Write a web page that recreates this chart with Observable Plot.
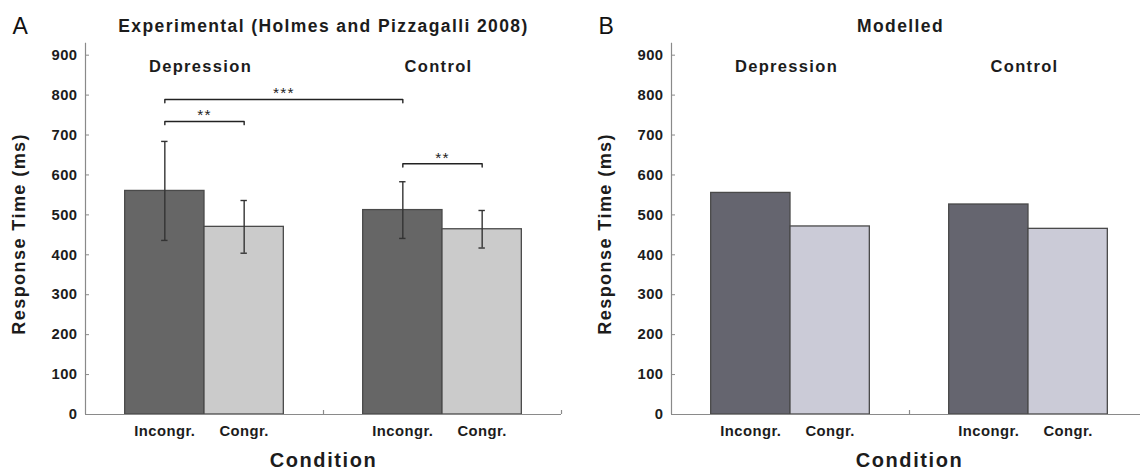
<!DOCTYPE html>
<html>
<head>
<meta charset="utf-8">
<script src="https://cdn.jsdelivr.net/npm/d3@7"></script>
<script src="https://cdn.jsdelivr.net/npm/@observablehq/plot@0.6"></script>
<style>
  html, body { margin: 0; padding: 0; background: #fff; }
  #wrap { position: relative; width: 1140px; height: 471px; overflow: hidden; background: #fff; }
  .panel { position: absolute; top: 0; width: 570px; height: 471px; }
  .panel svg { font-family: "Liberation Sans", Arial, Helvetica, sans-serif; overflow: visible; }
  .panel svg text { letter-spacing: 0.08em; }
  .panel svg g[font-size="14.8"] text { letter-spacing: 0.03em; }
</style>
</head>
<body>
<div id="wrap"></div>
<script>
// ---- data ----
const groups = ["Depression", "Control"];
const conditions = ["Incongr.", "Congr."];
const yTicks = [0, 100, 200, 300, 400, 500, 600, 700, 800, 900];

// bar order: Depression-Incongr., Depression-Congr., Control-Incongr., Control-Congr.
const expMean = [560, 470, 512, 464];
const expErr  = [124, 66, 71, 47];
const modMean = [555, 471, 526, 465];

// significance brackets (experimental panel), bar indices
const sigFrom  = [0, 0, 2];
const sigTo    = [1, 2, 3];
const sigLevel = [734, 789, 628];
const sigLabel = ["**", "***", "**"];

const textColor = "#1c1c1c";
const axisColor = "#8a8a8a";

function makePanel({letter, title, titleDx, means, errs, withSig, darkFill, lightFill}) {
  const bars = means.map((v, i) => {
    const gi = Math.floor(i / conditions.length), ci = i % conditions.length;
    const x1 = gi * (conditions.length + 1) + ci;
    return {group: groups[gi], cond: conditions[ci], value: v, err: errs ? errs[i] : null, x1, x2: x1 + 1, xc: x1 + 0.5};
  });
  const step = conditions.length + 1;
  const xMin = -0.5, xMax = groups.length * step - 0.5;
  const xMid = (xMin + xMax) / 2;
  const drop = 8;

  const marks = [
    Plot.rect(bars, {x1: "x1", x2: "x2", y1: 0, y2: "value", fill: "cond", stroke: "#4a4a4a", strokeWidth: 1.3}),
    Plot.ruleY([0], {stroke: axisColor, strokeWidth: 1.2}),
    Plot.ruleX([xMin], {stroke: axisColor, strokeWidth: 1.2}),
    Plot.ruleX(groups.map((g, gi) => gi * step + step - 0.5), {x: d => d, y1: 0, y2: 10, stroke: axisColor, strokeWidth: 1.2}),
    // y ticks (pointing inward) and labels
    Plot.ruleY(yTicks.filter(t => t > 0), {y: d => d, x1: () => xMin, x2: () => xMin, insetRight: -4, stroke: axisColor, strokeWidth: 1}),
    Plot.text(yTicks, {y: d => d, frameAnchor: "left", text: d => String(d), textAnchor: "end", dx: -8, fontSize: 14.8, fontWeight: "bold", fill: textColor}),
    // x tick labels
    Plot.text(bars, {x: "xc", frameAnchor: "bottom", text: "cond", dy: 21, lineAnchor: "bottom", fontSize: 14.8, fontWeight: "bold", fill: textColor}),
    // group labels
    Plot.text(groups, {x: (d, i) => i * step + (conditions.length) / 2, frameAnchor: "top", text: d => d, dy: 28.8, dx: -4, lineAnchor: "bottom", fontSize: 16.5, fontWeight: "bold", fill: textColor}),
    // panel title and letter
    Plot.text([title], {x: () => xMid, frameAnchor: "top", text: d => d, dy: -11, dx: titleDx, lineAnchor: "bottom", fontSize: 17.5, fontWeight: "bold", fill: textColor}),
    Plot.text([letter], {frameAnchor: "top-left", text: d => d, dx: -73, dy: -9.5, textAnchor: "start", lineAnchor: "bottom", fontSize: 23, fontWeight: "normal", fill: "#111"}),
    // axis titles
    Plot.text(["Response Time (ms)"], {frameAnchor: "left", text: d => d, rotate: -90, textAnchor: "middle", lineAnchor: "middle", dx: -66, dy: 5, fontSize: 18, fontWeight: "bold", fill: textColor}),
    Plot.text(["Condition"], {x: () => xMid, frameAnchor: "bottom", text: d => d, dy: 52.5, lineAnchor: "bottom", fontSize: 20, fontWeight: "bold", fill: textColor})
  ];

  if (errs) {
    const eb = bars.map(d => ({xc: d.xc, lo: d.value - d.err, hi: d.value + d.err}));
    marks.push(
      Plot.ruleX(eb, {x: "xc", y1: "lo", y2: "hi", stroke: "#333", strokeWidth: 1.4}),
      Plot.ruleY(eb, {y: "hi", x1: "xc", x2: "xc", insetLeft: -3.2, insetRight: -3.2, stroke: "#333", strokeWidth: 1.4}),
      Plot.ruleY(eb, {y: "lo", x1: "xc", x2: "xc", insetLeft: -3.2, insetRight: -3.2, stroke: "#333", strokeWidth: 1.4})
    );
  }

  if (withSig) {
    const sig = sigFrom.map((f, k) => ({id: k, a: bars[f].xc, b: bars[sigTo[k]].xc, level: sigLevel[k], label: sigLabel[k]}));
    const pts = sig.flatMap(s => [
      {id: s.id, x: s.a, y: s.level - drop},
      {id: s.id, x: s.a, y: s.level},
      {id: s.id, x: s.b, y: s.level},
      {id: s.id, x: s.b, y: s.level - drop}
    ]);
    marks.push(
      Plot.line(pts, {x: "x", y: "y", z: "id", stroke: "#222", strokeWidth: 1.4, curve: "linear"}),
      Plot.text(sig, {x: d => (d.a + d.b) / 2, y: "level", text: "label", dy: -1, lineAnchor: "bottom", fontSize: 15.5, fontWeight: "normal", fill: "#222"})
    );
  }

  return Plot.plot({
    width: 570,
    height: 471,
    marginLeft: 85,
    marginRight: 9,
    marginTop: 42.7,
    marginBottom: 57,
    x: {domain: [xMin, xMax], axis: null},
    y: {domain: [0, 930], axis: null},
    color: {domain: conditions, range: [darkFill, lightFill]},
    style: {background: "white", overflow: "visible"},
    marks
  });
}

const wrap = document.getElementById("wrap");

const left = document.createElement("div");
left.className = "panel";
left.style.left = "0px";
left.appendChild(makePanel({
  letter: "A",
  title: "Experimental (Holmes and Pizzagalli 2008)",
  titleDx: 0,
  means: expMean,
  errs: expErr,
  withSig: true,
  darkFill: "#666666",
  lightFill: "#cbcbcb"
}));
wrap.appendChild(left);

const right = document.createElement("div");
right.className = "panel";
right.style.left = "586px";
right.appendChild(makePanel({
  letter: "B",
  title: "Modelled",
  titleDx: -9,
  means: modMean,
  errs: null,
  withSig: false,
  darkFill: "#65656f",
  lightFill: "#cbcbd7"
}));
wrap.appendChild(right);
</script>
</body>
</html>
